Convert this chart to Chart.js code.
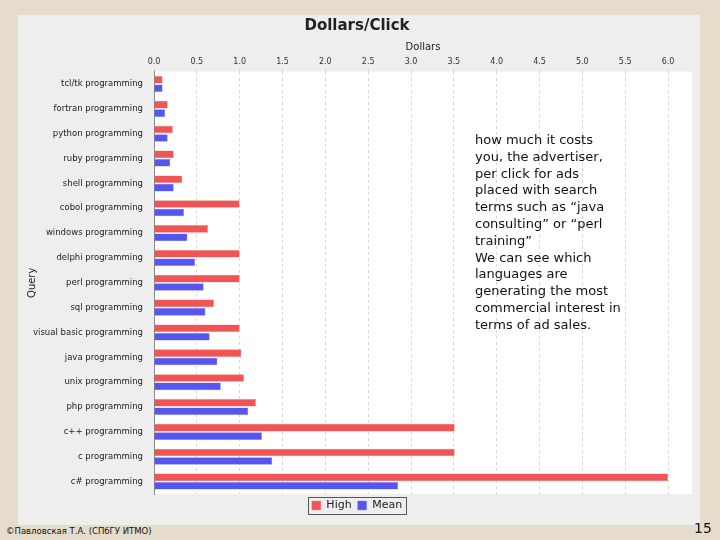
<!DOCTYPE html>
<html>
<head>
<meta charset="utf-8">
<script src="https://cdn.jsdelivr.net/npm/chart.js@4"></script>
<style>
  body { margin: 0; width: 720px; height: 540px; background: #e6dccb; position: relative; overflow: hidden; font-family: "DejaVu Sans", sans-serif; }
  #panel { position: absolute; left: 18px; top: 15px; width: 682px; height: 510px; background: #eeeeee; }
  #note { position: absolute; left: 475px; top: 132px; width: 150px; font-size: 13px; line-height: 16.8px; color: #111; }
  #foot { position: absolute; left: 6px; top: 526px; font-size: 8.5px; color: #111; }
  #page { position: absolute; left: 694px; top: 520px; font-size: 14px; color: #111; }
</style>
</head>
<body>
<div id="panel"><canvas id="chart" width="682" height="510"></canvas></div>
<div id="note">how much it costs you, the advertiser, per click for ads placed with search terms such as “java consulting” or “perl training”<br>We can see which languages are generating the most commercial interest in terms of ad sales.</div>
<div id="foot">©Павловская Т.А. (СПбГУ ИТМО)</div>
<div id="page">15</div>
<script>
// queries, top to bottom
const queries = [
  "tcl/tk programming", "fortran programming", "python programming", "ruby programming",
  "shell programming", "cobol programming", "windows programming", "delphi programming",
  "perl programming", "sql programming", "visual basic programming", "java programming",
  "unix programming", "php programming", "c++ programming", "c programming", "c# programming",
]
const highValues = [0.10, 0.16, 0.22, 0.23, 0.33, 1.00, 0.63, 1.00, 1.00, 0.70, 1.00, 1.02, 1.05, 1.19, 3.51, 3.51, 6.00]
const meanValues = [0.10, 0.13, 0.16, 0.19, 0.23, 0.35, 0.39, 0.48, 0.58, 0.60, 0.65, 0.74, 0.78, 1.10, 1.26, 1.38, 2.85]
const xTicks = [0, 0.5, 1, 1.5, 2, 2.5, 3, 3.5, 4, 4.5, 5, 5.5, 6]

const plotBackground = {
  id: "plotBackground",
  beforeDraw(chart) {
    const { ctx, chartArea: a } = chart
    ctx.save()
    ctx.fillStyle = "#ffffff"
    ctx.fillRect(a.left, a.top, a.right - a.left, a.bottom - a.top)
    ctx.restore()
  },
  afterDraw(chart) {
    const l = chart.legend
    if (!l || !l.legendHitBoxes || !l.legendHitBoxes.length) return
    const boxes = l.legendHitBoxes
    const x0 = Math.min(...boxes.map(b => b.left)) - 4
    const x1 = Math.max(...boxes.map(b => b.left + b.width)) + 4
    const y0 = Math.min(...boxes.map(b => b.top)) - 3
    const y1 = Math.max(...boxes.map(b => b.top + b.height)) + 3
    const { ctx } = chart
    ctx.save()
    ctx.strokeStyle = "#555"
    ctx.lineWidth = 1
    ctx.strokeRect(Math.round(x0) + 0.5, Math.round(y0) + 0.5, Math.round(x1 - x0), Math.round(y1 - y0))
    ctx.restore()
  },
}

new Chart(document.getElementById("chart"), {
  type: "bar",
  data: {
    labels: queries,
    datasets: [
      { label: "High", data: highValues, backgroundColor: "#f05555", borderColor: "#f08888", borderWidth: 0.5 },
      { label: "Mean", data: meanValues, backgroundColor: "#5555f0", borderColor: "#8888f0", borderWidth: 0.5 },
    ],
  },
  options: {
    indexAxis: "y",
    responsive: false,
    animation: false,
    layout: { padding: { left: 4, right: 8, top: 0, bottom: 4 } },
    datasets: { bar: { categoryPercentage: 0.68, barPercentage: 0.9 } },
    plugins: {
      title: { display: true, text: "Dollars/Click", color: "#222", font: { family: "DejaVu Sans", size: 15, weight: "bold" }, padding: { top: 2, bottom: 6 } },
      legend: {
        position: "bottom",
        labels: { boxWidth: 9, boxHeight: 9, padding: 6, color: "#222", font: { family: "DejaVu Sans", size: 11 } },
      },
      tooltip: { enabled: false },
    },
    scales: {
      x: {
        position: "top",
        min: 0,
        max: 6.28,
        afterBuildTicks: s => { s.ticks = xTicks.map(v => ({ value: v })) },
        ticks: { callback: v => Number(v).toFixed(1), color: "#333", font: { family: "DejaVu Sans", size: 8 }, padding: 2 },
        grid: { color: "#d8d8d8", tickLength: 3, drawTicks: true },
        border: { dash: [3, 3], display: false },
        title: { display: true, text: "Dollars", color: "#222", font: { family: "DejaVu Sans", size: 10 }, padding: { top: 0, bottom: 2 } },
      },
      y: {
        grid: { display: false },
        border: { color: "#888" },
        ticks: { color: "#222", font: { family: "DejaVu Sans", size: 8.5 } },
        afterFit: s => { s.width = 132 },
        title: { display: true, text: "Query", color: "#222", font: { family: "DejaVu Sans", size: 10 } },
      },
    },
  },
  plugins: [plotBackground],
})
</script>
</body>
</html>
